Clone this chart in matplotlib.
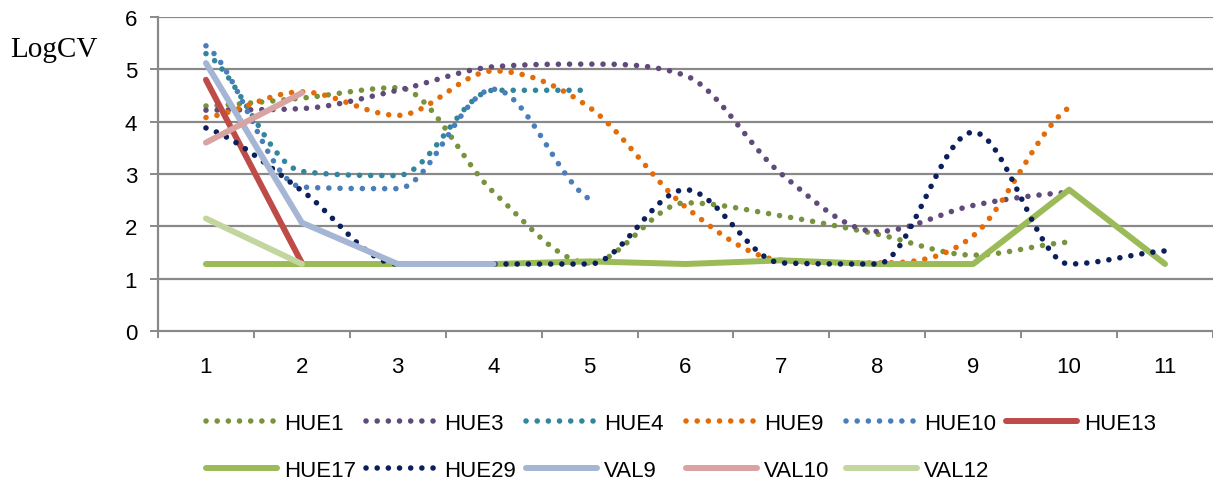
import matplotlib
matplotlib.use('Agg')
import matplotlib.pyplot as plt
import numpy as np

# Data
categories = list(range(1, 12))
hue1 = [4.3, 4.45, 4.65, 2.65, 1.3, 2.45, 2.2, 1.85, 1.45, 1.7]
hue3 = [4.22, 4.25, 4.6, 5.05, 5.1, 4.88, 3.0, 1.9, 2.4, 2.65]
hue4 = [5.3, 3.05, 2.97, 4.6, 4.6]
hue9 = [4.08, 4.57, 4.12, 4.97, 4.27, 2.37, 1.35, 1.3, 1.82, 4.27]
hue10 = [5.45, 2.75, 2.72, 4.62, 2.52]
hue13 = [4.8, 1.3]
hue17 = [1.28, 1.28, 1.28, 1.28, 1.33, 1.28, 1.35, 1.28, 1.28, 2.7, 1.28]
hue29 = [3.88, 2.68, 1.28, 1.28, 1.28, 2.7, 1.3, 1.28, 3.8, 1.28, 1.53]
val9 = [5.12, 2.07, 1.28, 1.28]
val10 = [3.6, 4.55]
val12 = [2.15, 1.28]

# (label, values, colour, dotted/smoothed)
series = [
    ('HUE1', hue1, '#77933C', True),
    ('HUE3', hue3, '#604A7B', True),
    ('HUE4', hue4, '#31859C', True),
    ('HUE9', hue9, '#E36C09', True),
    ('HUE10', hue10, '#4A7EBB', True),
    ('HUE13', hue13, '#BE4B48', False),
    ('HUE17', hue17, '#9BBB59', False),
    ('HUE29', hue29, '#0A1F5C', True),
    ('VAL9', val9, '#A5B6D5', False),
    ('VAL10', val10, '#D9A3A2', False),
    ('VAL12', val12, '#C3D69F', False),
]


def smooth(x, y, n=40):
    # smoothed line through the points, no overshoot (monotone cubic)
    x = np.asarray(x, float)
    y = np.asarray(y, float)
    d = np.diff(y) / np.diff(x)
    m = np.zeros_like(y)
    m[0], m[-1] = d[0] / 2, d[-1] / 2
    for k in range(1, len(y) - 1):
        if d[k - 1] * d[k] > 0:
            m[k] = (d[k - 1] + d[k]) / 2
            lim = 3 * min(abs(d[k - 1]), abs(d[k]))
            m[k] = np.sign(m[k]) * min(abs(m[k]), lim)
    t = np.linspace(0, 1, n)
    xs, ys = [], []
    for k in range(len(y) - 1):
        h = x[k + 1] - x[k]
        h00 = 2 * t ** 3 - 3 * t ** 2 + 1
        h10 = t ** 3 - 2 * t ** 2 + t
        h01 = -2 * t ** 3 + 3 * t ** 2
        h11 = t ** 3 - t ** 2
        xs.append(x[k] + t * h)
        ys.append(h00 * y[k] + h10 * h * m[k] + h01 * y[k + 1] + h11 * h * m[k + 1])
    return np.concatenate(xs), np.concatenate(ys)


plt.rcParams['font.family'] = ['Liberation Sans', 'DejaVu Sans']

fig = plt.figure(figsize=(12.13, 4.85), dpi=100)
W, H = 1213, 485
ax = fig.add_axes([158 / W, (H - 332) / H, (W - 158) / W, 314 / H])

grid_col = '#898989'
for yv in range(1, 7):
    ax.axhline(yv, color=grid_col, lw=1.6, zorder=1)

handles = []
for label, vals, col, dotted in series:
    xs = categories[:len(vals)]
    if dotted:
        sx, sy = smooth(xs, vals)
        ln, = ax.plot(sx, sy, color=col, lw=4.0, linestyle=(0, (0.01, 2.0)),
                      dash_capstyle='round', label=label, zorder=3)
    else:
        ln, = ax.plot(xs, vals, color=col, lw=4.3, solid_capstyle='round',
                      label=label, zorder=3)
    handles.append(ln)

ax.set_xlim(0.5, 11.5)
ax.set_ylim(0, 6)
ax.set_xticks(categories)
ax.set_xticklabels([str(c) for c in categories], fontsize=16)
ax.set_xticks(np.arange(0.5, 11.6, 1), minor=True)
ax.tick_params(axis='x', which='major', length=0, pad=18)
ax.tick_params(axis='x', which='minor', length=5, width=1.4, color=grid_col)
ax.set_yticks(range(0, 7))
ax.tick_params(axis='y', length=6, width=1.4, color=grid_col, pad=9, labelsize=16)

for s in ['top', 'right']:
    ax.spines[s].set_visible(False)
for s in ['left', 'bottom']:
    ax.spines[s].set_color(grid_col)
    ax.spines[s].set_linewidth(1.6)

fig.text(10 / W, 1 - 50 / H, 'LogCV', fontsize=21, family='Liberation Serif',
         ha='left', va='center')

# Legend: six evenly spaced columns of two rows, like the original
for i in range(6):
    col_h = handles[i::6]
    fig.legend(col_h, [h.get_label() for h in col_h], loc='upper left',
               bbox_to_anchor=((206 + 160 * i) / W, 1 - 414 / H),
               frameon=False, fontsize=16, handlelength=3.2, handletextpad=0.3,
               borderpad=0, borderaxespad=0, labelspacing=1.15)

fig.savefig('out.png', dpi=100)
